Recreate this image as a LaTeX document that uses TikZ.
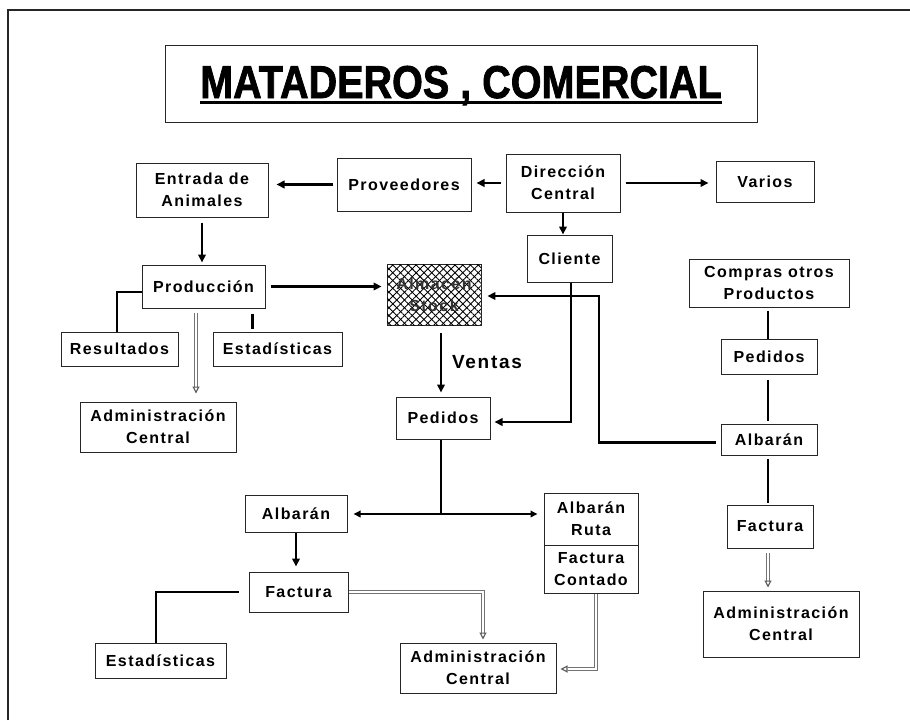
\documentclass[tikz,border=0pt]{standalone}
\usepackage{fontspec}
\setmainfont{Liberation Sans}
\newfontfamily\lblfont[LetterSpace=9]{Liberation Sans}
\newfontfamily\ttlfont[BoldFeatures={FakeBold=1.8}]{Liberation Sans}
\usetikzlibrary{arrows.meta,patterns.meta,calc}
\tikzset{
  box/.style={draw=black!85, line width=1pt, align=center, inner sep=0pt,
    font=\lblfont\bfseries\fontsize{16}{22}\selectfont},
  frame/.style={draw=black!85, line width=1.2pt},
  con/.style={line width=2.9pt},
  arr/.style={con, -{Triangle[length=8pt,width=7.5pt]}},
  arrboth/.style={con, {Triangle[length=7pt,width=6.5pt]}-{Triangle[length=7pt,width=6.5pt]}},
  dbl/.style={draw=black!55, line width=1.1pt, double=white, double distance=1.7pt},
  dtip/.style={draw=white, line width=0.1pt,
    -{Triangle[open,length=7pt,width=7pt,color=black!65,line width=1.1pt]}},
  ventas/.style={font=\lblfont\bfseries\fontsize{19}{22}\selectfont, inner sep=0pt},
  titletext/.style={font=\ttlfont\bfseries\fontsize{46}{50}\selectfont, inner sep=0pt, anchor=base},
  hatchA/.style={pattern={Lines[angle=45,distance=5.5pt,line width=0.9pt]}},
  hatchB/.style={pattern={Lines[angle=-45,distance=5.5pt,line width=0.9pt]}},
}
\newcommand\bx[6]{\node[box, minimum width={(#4-#2)*1pt}, minimum height={(#5-#3)*1pt}] (#1) at ({(#2+#4)/2},{(#3+#5)/2}) {#6};}
\begin{document}
\begin{tikzpicture}[x=1pt,y=-1pt]
\useasboundingbox (0,0) rectangle (910,720);
% frame
\coordinate (fbl) at (8,720);
\coordinate (ftl) at (8,10);
\coordinate (ftr) at (910,10);
\draw[frame] (fbl) -- (ftl) -- (ftr);
% title
\bx{titlebox}{165}{45}{757}{122}{}
\node[titletext] (title) at (461,98) {\scalebox{0.86}[1]{MATADEROS , COMERCIAL}};
\draw[line width=3.2pt] ([yshift=-4.5pt]title.base west) -- ([yshift=-4.5pt]title.base east);
% boxes
\bx{entrada}{136}{163}{268}{217}{Entrada de\\Animales}
\bx{prov}{337}{158}{471}{211}{Proveedores}
\bx{dir}{506}{154}{620}{212}{Dirección\\Central}
\bx{varios}{716}{161}{814}{202}{Varios}
\bx{cliente}{527}{235}{612}{282}{Cliente}
\bx{prod}{142}{265}{265}{308}{Producción}
\node[box, minimum width=94pt, minimum height=61pt, hatchA, postaction={hatchB}, text=black!80]
  (alm) at (434,294.5) {Almacén\\Stock};
\bx{compras}{689}{259}{849}{307}{Compras otros\\Productos}
\bx{result}{61}{332}{178}{366}{Resultados}
\bx{estad1}{213}{332}{342}{366}{Estadísticas}
\bx{admin1}{80}{402}{236}{452}{Administración\\Central}
\bx{ped1}{396}{397}{490}{439}{Pedidos}
\bx{ped2}{721}{339}{817}{374}{Pedidos}
\bx{alb2}{721}{424}{817}{455}{Albarán}
\bx{fac2}{727}{505}{813}{548}{Factura}
\bx{admin3}{703}{591}{859}{657}{Administración\\Central}
\bx{alb1}{245}{495}{347}{532}{Albarán}
\bx{ruta}{544}{493}{638}{545}{Albarán\\Ruta}
\bx{contado}{544}{545}{638}{593}{Factura\\Contado}
\bx{fac1}{249}{572}{348}{612}{Factura}
\bx{estad2}{95}{643}{226}{678}{Estadísticas}
\bx{admin2}{400}{643}{556}{693}{Administración\\Central}
\node[ventas] (ventas) at (487,362) {Ventas};
% connectors top
\draw[arr, shorten <=5pt, shorten >=5pt] (dir.west) -- (dir.west -| prov.east);
\draw[arr, shorten <=4pt, shorten >=8pt] (prov.west) -- (prov.west -| entrada.east);
\draw[arr, shorten <=5pt, shorten >=7pt] (dir.east) -- (dir.east -| varios.west);
\draw[arr] (dir.south) -- (dir.south |- cliente.north);
\draw[arr, shorten <=5pt, shorten >=2pt] (entrada.south) -- (entrada.south |- prod.north);
\draw[arr, shorten <=5pt, shorten >=5pt] (prod.east) -- (prod.east -| alm.west);
\draw[con] ([yshift=-5.5pt]prod.west) -| ([xshift=-2.5pt]result.north);
\draw[con, shorten <=5pt, shorten >=3pt] ([xshift=-25pt]estad1.north |- prod.south) -- ([xshift=-25pt]estad1.north);
\draw[dbl, shorten <=4pt, shorten >=15pt] ([xshift=-7.5pt]prod.south) -- ([xshift=-7.5pt]prod.south |- admin1.north);
\draw[dtip, shorten <=4pt, shorten >=8pt] ([xshift=-7.5pt]prod.south) -- ([xshift=-7.5pt]prod.south |- admin1.north);
% middle
\draw[arr, shorten <=8pt, shorten >=4pt] (alm.south -| 441,0) -- (ped1.north -| 441,0);
\draw[arr, shorten >=4pt] (cliente.south -| 571,0) |- (ped1.east |- 0,422);
\draw[arr, shorten <=5pt, shorten >=6pt] ([yshift=-3pt]alb2.west) -| (599,296) -- (alm.east |- 0,296);
% right column
\draw[con, shorten <=3pt] (compras.south -| 768,0) -- (ped2.north -| 768,0);
\draw[con, shorten <=5pt, shorten >=3pt] (ped2.south -| 768,0) -- (alb2.north -| 768,0);
\draw[con, shorten <=3pt, shorten >=2pt] (alb2.south -| 768,0) -- (fac2.north -| 768,0);
\draw[dbl, shorten <=4pt, shorten >=10pt] (fac2.south -| 768,0) -- (admin3.north -| 768,0);
\draw[dtip, shorten <=4pt, shorten >=3pt] (fac2.south -| 768,0) -- (admin3.north -| 768,0);
% bottom
\coordinate (split) at (441,514);
\draw[con] (ped1.south -| split) -- (split);
\draw[arrboth, shorten <=6pt, shorten >=6pt] (alb1.east |- split) -- (ruta.west |- split);
\draw[arr, shorten >=5pt] (alb1.south) -- (alb1.south |- fac1.north);
\draw[con, shorten <=10pt] (fac1.west) -| ([xshift=-4.5pt]estad2.north);
\draw[dbl, shorten >=10pt] (fac1.east) -| (admin2.north -| 483,0);
\draw[dtip, shorten >=3pt] (fac1.east) -| (admin2.north -| 483,0);
\draw[dbl, shorten >=11pt] (contado.south -| 596,0) |- (admin2.east |- 0,669);
\draw[dtip, shorten >=4pt] (contado.south -| 596,0) |- (admin2.east |- 0,669);
\end{tikzpicture}
\end{document}
